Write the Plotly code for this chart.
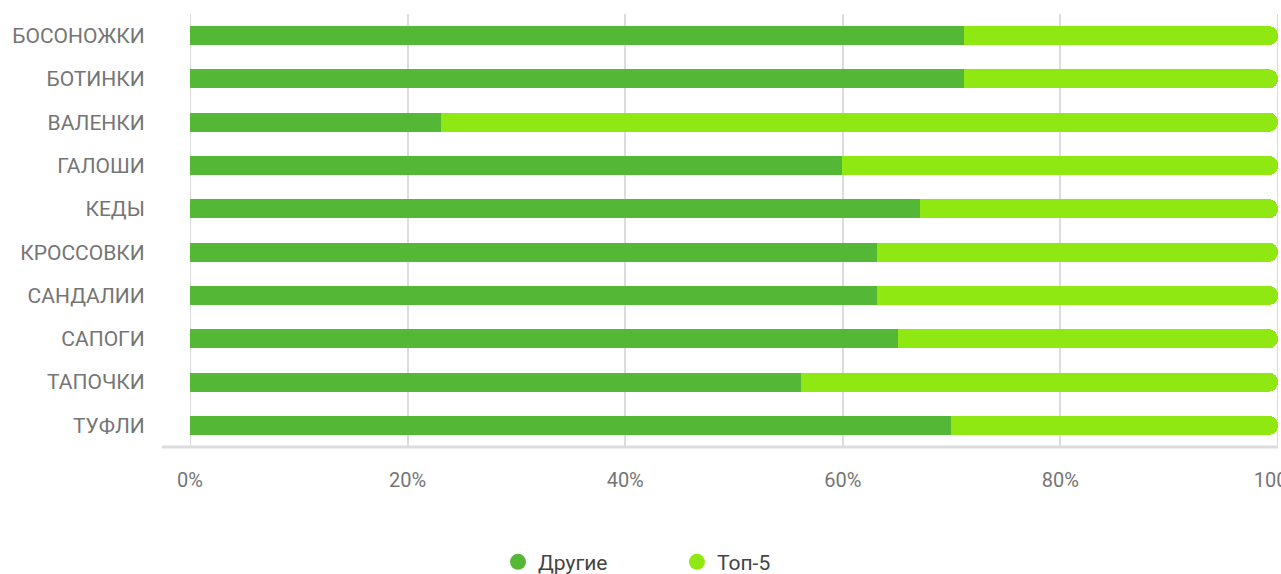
import plotly.graph_objects as go

categories = ["БОСОНОЖКИ", "БОТИНКИ", "ВАЛЕНКИ", "ГАЛОШИ", "КЕДЫ",
              "КРОССОВКИ", "САНДАЛИИ", "САПОГИ", "ТАПОЧКИ", "ТУФЛИ"]
others = [71.1, 71.1, 23.1, 59.9, 67.1, 63.1, 63.1, 65.1, 56.2, 69.9]
top5 = [round(100 - v, 1) for v in others]
series_names = ["Другие", "Топ-5"]
tick_vals = [0, 20, 40, 60, 80, 100]
tick_text = ["0%", "20%", "40%", "60%", "80%", "100%"]

c_others = "#55b736"
c_top5 = "#90e813"
grid_c = "#dcdcdc"
font_family = "Roboto, 'Noto Sans', sans-serif"

fig = go.Figure()
fig.add_trace(go.Bar(y=categories, x=others, orientation="h", name=series_names[0],
                     marker=dict(color=c_others, line=dict(width=0)), showlegend=False))
fig.add_trace(go.Bar(y=categories, x=top5, orientation="h", name=series_names[1],
                     marker=dict(color=c_top5, line=dict(width=0), cornerradius=10), showlegend=False))
# legend entries with circle markers
for nm, col in zip(series_names, [c_others, c_top5]):
    fig.add_trace(go.Scatter(x=[None], y=[None], mode="markers", name=nm,
                             marker=dict(color=col, size=22, symbol="circle")))

edge_lines = [dict(type="line", xref="x", yref="paper", x0=v, x1=v, y0=0, y1=1,
                   layer="below", line=dict(color=grid_c, width=2))
              for v in (tick_vals[0], tick_vals[-1])]

fig.update_layout(
    width=1281, height=574,
    barmode="stack", bargap=0.56,
    margin=dict(l=190, r=3, t=14, b=127, autoexpand=False),
    plot_bgcolor="white", paper_bgcolor="white",
    font=dict(family=font_family, color="#757575", size=21),
    legend=dict(orientation="h", x=0.4476, xanchor="center", y=-0.266, yanchor="middle",
                font=dict(size=21, color="#444"), itemsizing="trace", traceorder="normal",
                entrywidth=134, entrywidthmode="pixels"),
    xaxis=dict(range=[0, 100], tickvals=tick_vals, ticktext=tick_text,
               showgrid=True, gridcolor=grid_c, gridwidth=2, zeroline=False,
               showline=False, ticks="outside", ticklen=15, tickcolor="rgba(0,0,0,0)",
               tickfont=dict(size=20, color="#757575"), automargin=False,
               ticklabeloverflow="allow", fixedrange=True),
    yaxis=dict(categoryorder="array", categoryarray=categories, autorange="reversed",
               showgrid=False, zeroline=False, showline=False,
               ticks="outside", ticklen=40, tickcolor="rgba(0,0,0,0)",
               tickfont=dict(size=21, color="#757575"), automargin=False, fixedrange=True),
    shapes=edge_lines + [dict(type="line", xref="paper", yref="paper", x0=-0.0257, x1=1, y0=0, y1=0,
                              line=dict(color=grid_c, width=3))],
)

fig.write_html("out.html", config={"displayModeBar": False},
               post_script="document.body.style.margin='0';document.body.style.overflow='hidden';")
